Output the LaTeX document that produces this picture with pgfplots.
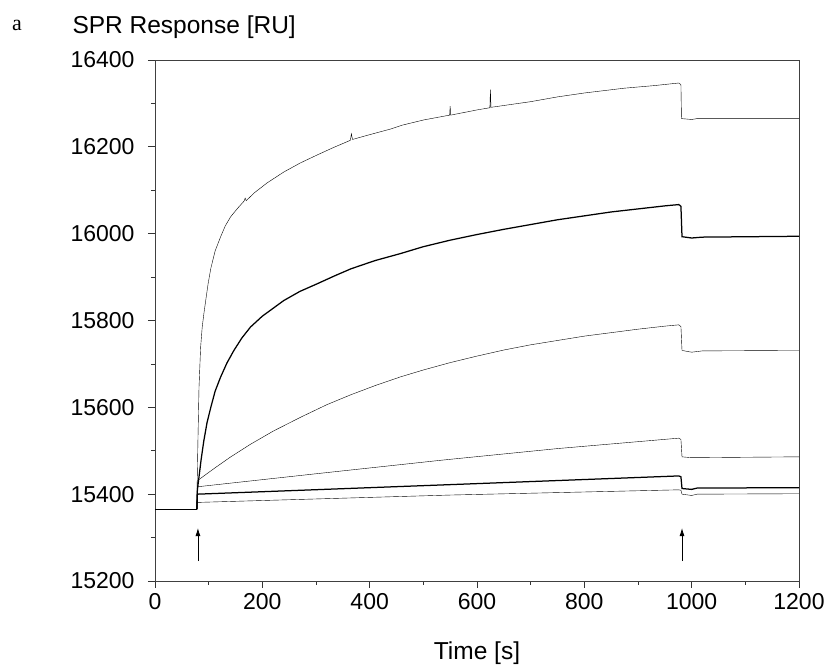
\documentclass[border=0pt]{standalone}
\usepackage{fontspec}
\setmainfont{Liberation Sans}
\newfontfamily\serifa{Liberation Serif}
\usepackage{pgfplots}
\pgfplotsset{compat=1.18}
\usetikzlibrary{arrows.meta}

\begin{document}
\begin{tikzpicture}
\useasboundingbox (-155pt,-85pt) rectangle (675pt,581pt);
\begin{axis}[
  scale only axis,
  width=644pt, height=521pt,
  xmin=0, xmax=1200, ymin=15200, ymax=16400,
  xtick distance=200, ytick distance=200,
  minor tick num=1,
  scaled ticks=false,
  tick align=outside, tick pos=left,
  major tick length=7pt, minor tick length=4pt,
  axis line style={black!75, line width=0.8pt},
  every tick/.style={black!80, line width=0.8pt},
  ticklabel style={font=\fontsize{23}{26}\selectfont},
  xticklabel style={yshift=-2pt},
  yticklabel style={xshift=-10pt},
  /pgf/number format/assume math mode=true,
  /pgf/number format/1000 sep={},
  clip=false,
  cycle list={{black, no markers, line width=1.25pt}},
]
% baseline before injection
\addplot coordinates {(0,15365)(78,15365)};

% curve 1 (highest concentration)
\addplot coordinates {(78,15365)(78.5,15420)(80,15523)(82,15646)(85,15738)(88,15785)
(91,15815)(94.5,15846)(99,15885)(104,15920)(112,15960)(122,15992)(131,16018)(141,16039)
(155,16060)(166,16075)(168,16082)(170,16076)(185,16094)(209,16117)(240,16142)(271,16163)
(300,16180)(330,16197)(364,16215)(366,16230)(368,16217)(400,16228)(439,16241)(461,16250)
(501,16262)(549,16273)(550,16294)(551,16273)(600,16285)(624,16290)(625,16332)(626,16291)
(700,16304)(750,16315)(800,16324)(874,16335)(930,16341)(976,16347)(980,16343)(981,16265)
(1000,16263)(1010,16265)(1200,16265)};

% curve 2
\addplot coordinates {(78,15365)(79,15410)(82,15440)(86,15480)(91,15523)(97,15565)
(104,15600)(112,15637)(122,15669)(134,15702)(147,15731)(162,15760)(178,15785)(200,15810)
(240,15846)(270,15867)(303,15885)(335,15903)(365,15919)(410,15938)(457,15954)(500,15970)
(550,15985)(600,15998)(650,16010)(700,16021)(750,16032)(800,16041)(850,16050)(900,16057)
(950,16064)(976,16067)(980,16063)(982,15993)(1000,15990)(1020,15992)(1200,15994)};

% curve 3
\addplot coordinates {(78,15365)(79,15420)(80,15432)(90,15441)(110,15459)(140,15485)
(178,15515)(220,15545)(271,15577)(320,15606)(365,15629)(410,15650)(457,15670)(500,15686)
(550,15703)(600,15718)(650,15732)(700,15744)(750,15754)(800,15764)(850,15772)(900,15780)
(950,15787)(976,15790)(980,15786)(982,15731)(1000,15727)(1020,15730)(1200,15731)};

% curve 4
\addplot coordinates {(78,15365)(79,15417)(300,15447)(532,15478)(750,15505)(976,15529)
(980,15526)(982,15486)(1000,15484)(1200,15486)};

% curve 5
\addplot coordinates {(78,15365)(79,15400)(551,15422)(976,15442)(980,15440)(982,15413)
(1000,15411)(1010,15414)(1200,15415)};

% curve 6
\addplot coordinates {(78,15365)(79,15381)(551,15398)(976,15410)(980,15409)(982,15400)
(1000,15397)(1010,15400)(1200,15401)};

% injection / dissociation arrows
\addplot[black, line width=0.8pt, -{Latex[length=8pt,width=5pt]}] coordinates {(80,15246)(80,15322)};
\addplot[black, line width=0.8pt, -{Latex[length=8pt,width=5pt]}] coordinates {(982,15246)(982,15322)};

\node[anchor=west, font=\fontsize{24.5}{28}\selectfont] at (rel axis cs:0,1) [xshift=-86pt, yshift=33pt] {SPR Response [RU]};
\node[font=\serifa\fontsize{22}{26}\selectfont] at (rel axis cs:0,1) [xshift=-138pt, yshift=35pt] {a};
\node[font=\fontsize{24.5}{28}\selectfont] at (rel axis cs:0.5,0) [yshift=-72pt] {Time [s]};
\end{axis}
\end{tikzpicture}
\end{document}
